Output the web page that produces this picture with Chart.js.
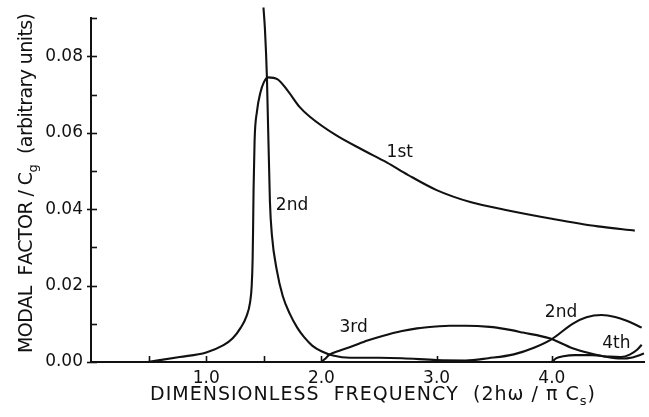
<!DOCTYPE html>
<html>
<head>
<meta charset="utf-8">
<script src="https://cdn.jsdelivr.net/npm/chart.js@4/dist/chart.umd.min.js"></script>
<style>
  html, body { margin: 0; padding: 0; background: #fff; }
  #wrap { width: 649px; height: 417px; }
</style>
</head>
<body>
<div id="wrap"><canvas id="c" width="649" height="417"></canvas></div>
<script>
// Modal factor curves versus dimensionless frequency
const freq1 = [0.49, 0.77, 1.0, 1.15, 1.23, 1.30, 1.35, 1.38, 1.395, 1.403, 1.407, 1.411, 1.42, 1.44, 1.47, 1.50, 1.535, 1.62, 1.71, 1.81, 1.90, 2.13, 2.36, 2.57, 2.75, 3.0, 3.3, 3.6, 4.0, 4.4, 4.72];
const mode1 = [0.0, 0.0013, 0.0025, 0.0044, 0.0062, 0.0090, 0.0120, 0.0155, 0.0200, 0.0270, 0.0350, 0.0450, 0.0580, 0.0655, 0.0705, 0.0732, 0.0745, 0.0740, 0.0709, 0.0668, 0.0642, 0.0593, 0.0555, 0.0522, 0.0490, 0.0450, 0.0418, 0.0398, 0.0375, 0.0355, 0.0344];

const freq2 = [1.497, 1.51, 1.527, 1.553, 1.57, 1.613, 1.665, 1.726, 1.79, 1.85, 1.92, 2.0, 2.1, 2.25, 2.5, 2.7, 3.0, 3.25, 3.45, 3.67, 3.85, 4.0, 4.18, 4.3, 4.43, 4.55, 4.65, 4.78];
const mode2 = [0.0928, 0.087, 0.0745, 0.042, 0.0333, 0.0240, 0.0172, 0.0126, 0.0090, 0.0065, 0.0043, 0.0028, 0.0017, 0.0011, 0.0011, 0.0010, 0.0005, 0.0004, 0.0010, 0.0020, 0.0038, 0.0060, 0.0100, 0.0117, 0.0123, 0.0118, 0.0108, 0.0090];

const freq3 = [2.0, 2.03, 2.07, 2.15, 2.25, 2.4, 2.53, 2.7, 2.83, 3.0, 3.11, 3.25, 3.46, 3.6, 3.75, 3.98, 4.18, 4.33, 4.48, 4.6, 4.7, 4.8];
const mode3 = [0.0, 0.0008, 0.0019, 0.0029, 0.0039, 0.0056, 0.0068, 0.0081, 0.0088, 0.0093, 0.0095, 0.0095, 0.0092, 0.0086, 0.0077, 0.0062, 0.0036, 0.0023, 0.0013, 0.0009, 0.0012, 0.0022];

const freq4 = [4.0, 4.04, 4.1, 4.2, 4.35, 4.5, 4.6, 4.68, 4.74, 4.78];
const mode4 = [0.0, 0.0010, 0.0015, 0.0018, 0.0018, 0.0014, 0.0013, 0.0020, 0.0032, 0.0045];

// Axis ticks
const xTickLabels = [1.0, 2.0, 3.0, 4.0];
const xTickMarks = [0.5, 1.0, 1.5, 2.0, 3.0, 4.0];
const yTickLabels = [0.00, 0.02, 0.04, 0.06, 0.08];
const yMinorMarks = [0.01, 0.03, 0.05, 0.07, 0.09];

// Curve annotations
const curveNames = ['1st', '2nd', '3rd', '2nd', '4th'];
const nameFreq = [2.68, 1.745, 2.28, 4.08, 4.56];
const nameValue = [0.0548, 0.041, 0.0090, 0.0129, 0.0049];

const FONT = '"DejaVu Sans", "Liberation Sans", sans-serif';
const INK = '#111';

function toPoints(xs, ys) { return xs.map((x, i) => ({ x: x, y: ys[i] })); }

function lineSet(xs, ys) {
  return {
    data: toPoints(xs, ys),
    showLine: true,
    borderColor: INK,
    borderWidth: 2.1,
    pointRadius: 0,
    fill: false,
    cubicInterpolationMode: 'monotone',
    clip: false
  };
}

// Draws text with optional subscript runs, stretched to a target width
function drawRich(ctx, parts, size, x0, y0, targetWidth) {
  const chars = [];
  parts.forEach(p => {
    for (const ch of p.t) chars.push({ ch: ch, sub: !!p.sub });
  });
  const fontFor = c => (c.sub ? Math.round(size * 0.68) : size) + 'px ' + FONT;
  let natural = 0;
  chars.forEach(c => { ctx.font = fontFor(c); c.w = ctx.measureText(c.ch).width; natural += c.w; });
  const gap = chars.length > 1 ? (targetWidth - natural) / (chars.length - 1) : 0;
  let x = x0;
  chars.forEach(c => {
    ctx.font = fontFor(c);
    ctx.fillText(c.ch, x, y0 + (c.sub ? size * 0.28 : 0));
    x += c.w + gap;
  });
}

const decorations = {
  id: 'decorations',
  afterDraw(chart) {
    const ctx = chart.ctx;
    const xs = chart.scales.x, ys = chart.scales.y;
    const area = chart.chartArea;
    ctx.save();
    ctx.strokeStyle = INK;
    ctx.fillStyle = INK;
    ctx.lineWidth = 1.6;

    // tick marks on the frequency axis (pointing up)
    xTickMarks.forEach(v => {
      const px = Math.round(xs.getPixelForValue(v)) + 0.5;
      ctx.beginPath();
      ctx.moveTo(px, area.bottom);
      ctx.lineTo(px, area.bottom - 6);
      ctx.stroke();
    });
    // major and minor tick marks on the modal-factor axis
    yTickLabels.forEach(v => {
      const py = Math.round(ys.getPixelForValue(v)) + 0.5;
      ctx.beginPath();
      ctx.moveTo(area.left - 4, py);
      ctx.lineTo(area.left + 6, py);
      ctx.stroke();
    });
    yMinorMarks.forEach(v => {
      const py = Math.round(ys.getPixelForValue(v)) + 0.5;
      ctx.beginPath();
      ctx.moveTo(area.left, py);
      ctx.lineTo(area.left + 6, py);
      ctx.stroke();
    });

    // curve names
    ctx.font = '17px ' + FONT;
    ctx.textAlign = 'center';
    ctx.textBaseline = 'middle';
    curveNames.forEach((name, i) => {
      ctx.fillText(name, xs.getPixelForValue(nameFreq[i]), ys.getPixelForValue(nameValue[i]));
    });

    // axis titles
    ctx.textAlign = 'left';
    ctx.textBaseline = 'alphabetic';
    drawRich(ctx, [
      { t: 'DIMENSIONLESS  FREQUENCY  (2h\u03C9 / \u03C0 C' }, { t: 's', sub: true }, { t: ')' }
    ], 19, 150, 400, 445);

    ctx.translate(32, 353);
    ctx.rotate(-Math.PI / 2);
    drawRich(ctx, [
      { t: 'MODAL  FACTOR / C' }, { t: 'g', sub: true }, { t: '  (arbitrary units)' }
    ], 19, 0, 0, 340);
    ctx.restore();
  }
};

new Chart(document.getElementById('c'), {
  type: 'scatter',
  data: {
    datasets: [
      lineSet(freq1, mode1),
      lineSet(freq2, mode2),
      lineSet(freq3, mode3),
      lineSet(freq4, mode4)
    ]
  },
  options: {
    responsive: false,
    animation: false,
    devicePixelRatio: 1,
    layout: { padding: { left: 0, top: 13, right: 5, bottom: 0 } },
    plugins: { legend: { display: false }, tooltip: { enabled: false }, title: { display: false } },
    scales: {
      x: {
        type: 'linear',
        min: 0,
        max: 4.8,
        grid: { display: false, drawTicks: false },
        border: { display: true, color: INK, width: 2 },
        afterBuildTicks: s => { s.ticks = xTickLabels.map(v => ({ value: v })); },
        afterFit: s => { s.height = 55; },
        ticks: {
          color: INK,
          padding: 6,
          maxRotation: 0,
          autoSkip: false,
          font: { family: FONT, size: 17 },
          callback: v => Number(v).toFixed(1)
        }
      },
      y: {
        type: 'linear',
        min: 0,
        max: 0.09,
        grid: { display: false, drawTicks: false },
        border: { display: true, color: INK, width: 2 },
        afterBuildTicks: s => { s.ticks = yTickLabels.map(v => ({ value: v })); },
        afterFit: s => { s.width = 91; },
        ticks: {
          color: INK,
          padding: 8,
          autoSkip: false,
          font: { family: FONT, size: 17 },
          callback: v => Number(v).toFixed(2)
        }
      }
    }
  },
  plugins: [decorations]
});
</script>
</body>
</html>
